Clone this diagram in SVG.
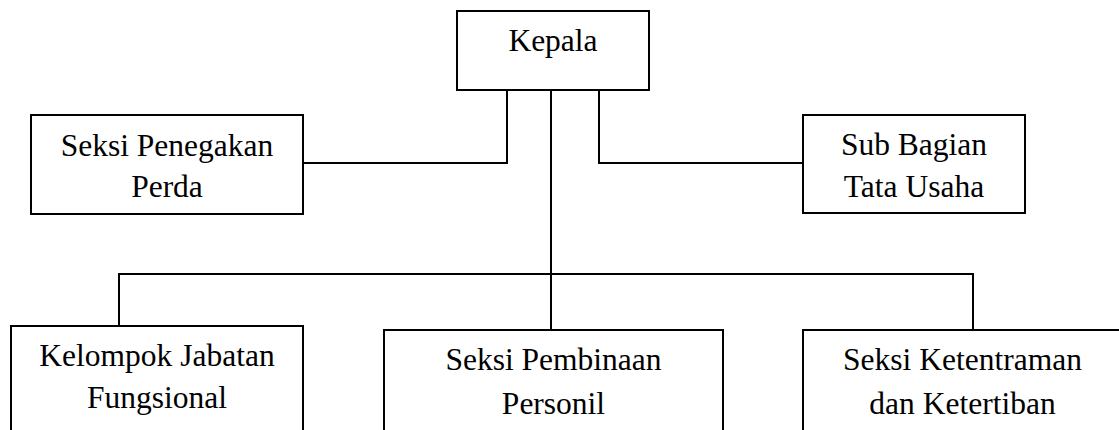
<svg xmlns="http://www.w3.org/2000/svg" width="1119" height="430" viewBox="0 0 1119 430">
<style>
.box{fill:#fff;stroke:#000;stroke-width:2}
.ln{fill:none;stroke:#000;stroke-width:2}
.t{font-family:"Liberation Serif","Times New Roman",serif;font-size:31.5px;fill:#000;text-anchor:middle}
</style>
<rect width="1119" height="430" fill="#fff"/>
<g id="connectors">
<polyline class="ln" points="507,90 507,163 303,163"/>
<polyline class="ln" points="599,90 599,163 803,163"/>
<line class="ln" x1="551" y1="90" x2="551" y2="330"/>
<polyline class="ln" points="119,326 119,274 973,274 973,330"/>
</g>
<g id="kepala">
<rect class="box" x="457" y="11" width="192" height="79"/>
<text class="t" x="553" y="51">Kepala</text>
</g>
<g id="seksi-penegakan">
<rect class="box" x="31" y="115" width="272" height="99"/>
<text class="t" x="167" y="156">Seksi Penegakan</text>
<text class="t" x="167" y="197">Perda</text>
</g>
<g id="sub-bagian">
<rect class="box" x="803" y="115" width="222" height="98"/>
<text class="t" x="914" y="155">Sub Bagian</text>
<text class="t" x="914" y="197">Tata Usaha</text>
</g>
<g id="kelompok-jabatan">
<rect class="box" x="11" y="326" width="292" height="120"/>
<text class="t" x="157" y="366">Kelompok Jabatan</text>
<text class="t" x="157" y="408">Fungsional</text>
</g>
<g id="seksi-pembinaan">
<rect class="box" x="384" y="330" width="339" height="120"/>
<text class="t" x="553.5" y="370">Seksi Pembinaan</text>
<text class="t" x="553.5" y="414">Personil</text>
</g>
<g id="seksi-ketentraman">
<rect class="box" x="803" y="330" width="320" height="120"/>
<text class="t" x="962.5" y="370">Seksi Ketentraman</text>
<text class="t" x="962.5" y="414">dan Ketertiban</text>
</g>
</svg>
